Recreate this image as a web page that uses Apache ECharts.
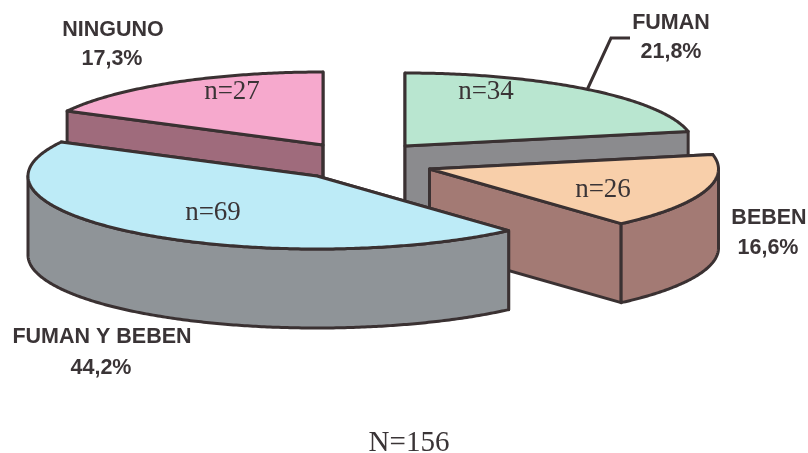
<!DOCTYPE html>
<html>
<head>
<meta charset="utf-8">
<title>N=156</title>
<script src="https://cdn.jsdelivr.net/npm/echarts@6/dist/echarts.min.js"></script>
<style>
html, body { margin: 0; padding: 0; background: #fff; }
#chart { width: 808px; height: 453px; }
</style>
</head>
<body>
<div id="chart"></div>
<script>
// data, clockwise from 12 o'clock
const categories = ["FUMAN", "BEBEN", "FUMAN Y BEBEN", "NINGUNO"];
const counts = [34, 26, 69, 27];
const percentLabels = ["21,8%", "16,6%", "44,2%", "17,3%"];
const totalLabel = "N=156";

// look of each slice, same order as categories
const topColors = ["#b9e6d0", "#f8cfaa", "#bdebf7", "#f6a9cd"];
const wallColors = ["#8b8b8e", "#a37a74", "#8f9498", "#9f6b7c"];
const centers = [[405, 146], [429.5, 169], [317, 176], [323, 145]];
const countPos = [[486, 92], [603, 190], [213, 213], [232, 92]];
const namePos = [[671, 23], [769, 218], [102, 337], [113, 30]];
const percentPos = [[671, 52], [768, 248], [101, 368], [112, 59]];
const drawOrder = [3, 0, 1, 2]; // back slices first

const RX = 289, RY = 73, DEPTH = 79;
const OUTLINE = "#3a3132";
const total = counts.reduce((a, b) => a + b, 0);

// cumulative angles, 0 = top, clockwise
const starts = [];
let sum = 0;
counts.forEach(c => {
  starts.push(sum / total * 2 * Math.PI);
  sum += c;
});

function rim(c, t, drop) {
  return [c[0] + RX * Math.sin(t), c[1] - RY * Math.cos(t) + (drop || 0)];
}

function arcPoints(c, a, b, drop) {
  const pts = [];
  const n = Math.max(2, Math.ceil((b - a) / 0.01));
  for (let i = 0; i <= n; i++) {
    pts.push(rim(c, a + (b - a) * i / n, drop));
  }
  return pts;
}

function face(points, fill) {
  return {
    type: "polygon",
    shape: { points: points },
    style: { fill: fill, stroke: OUTLINE, lineWidth: 3, lineJoin: "round" }
  };
}

function label(text, pos, font) {
  return {
    type: "text",
    style: {
      text: text, x: pos[0], y: pos[1], fill: "#3a3436", font: font,
      textAlign: "center", textVerticalAlign: "middle"
    }
  };
}

function renderSlice(params, api) {
  const i = api.value(0);
  const c = centers[i];
  const a = starts[i];
  const b = a + counts[i] / total * 2 * Math.PI;
  const wall = wallColors[i];
  const down = p => [p[0], p[1] + DEPTH];
  const children = [];

  // the two cut faces
  [a, b].forEach(t => {
    const p = rim(c, t);
    children.push(face([c, p, down(p), down(c)], wall));
  });

  // outer wall, front half only
  const wa = Math.max(a, Math.PI / 2);
  const wb = Math.min(b, Math.PI * 1.5);
  if (wb > wa) {
    const upper = arcPoints(c, wa, wb);
    const lower = arcPoints(c, wa, wb, DEPTH).reverse();
    children.push(face(upper.concat(lower), wall));
  }

  // top
  children.push(face([c].concat(arcPoints(c, a, b)), topColors[i]));
  return { type: "group", children: children };
}

function renderLabel(params, api) {
  const i = api.value(0);
  return {
    type: "group",
    children: [
      label("n=" + counts[i], countPos[i], '27px "Liberation Serif"'),
      label(categories[i], namePos[i], 'bold 21.5px "Liberation Sans"'),
      label(percentLabels[i], percentPos[i], 'bold 21.5px "Liberation Sans"')
    ]
  };
}

const chart = echarts.init(document.getElementById("chart"));
chart.setOption({
  animation: false,
  backgroundColor: "#fff",
  graphic: [
    {
      // leader line for FUMAN
      type: "polyline",
      z: 5,
      shape: { points: [[630, 38], [611, 38], [587, 90]] },
      style: { fill: null, stroke: OUTLINE, lineWidth: 3 }
    },
    {
      type: "text",
      z: 5,
      style: {
        text: totalLabel, x: 409, y: 443, fill: "#3a3436",
        font: '29px "Liberation Serif"', textAlign: "center", textVerticalAlign: "middle"
      }
    }
  ],
  series: [
    {
      type: "custom",
      coordinateSystem: "none",
      silent: true,
      renderItem: renderSlice,
      data: drawOrder.map(i => [i]),
      z: 2
    },
    {
      type: "custom",
      coordinateSystem: "none",
      silent: true,
      renderItem: renderLabel,
      data: counts.map((c, i) => [i]),
      z: 3
    }
  ]
});
</script>
</body>
</html>
